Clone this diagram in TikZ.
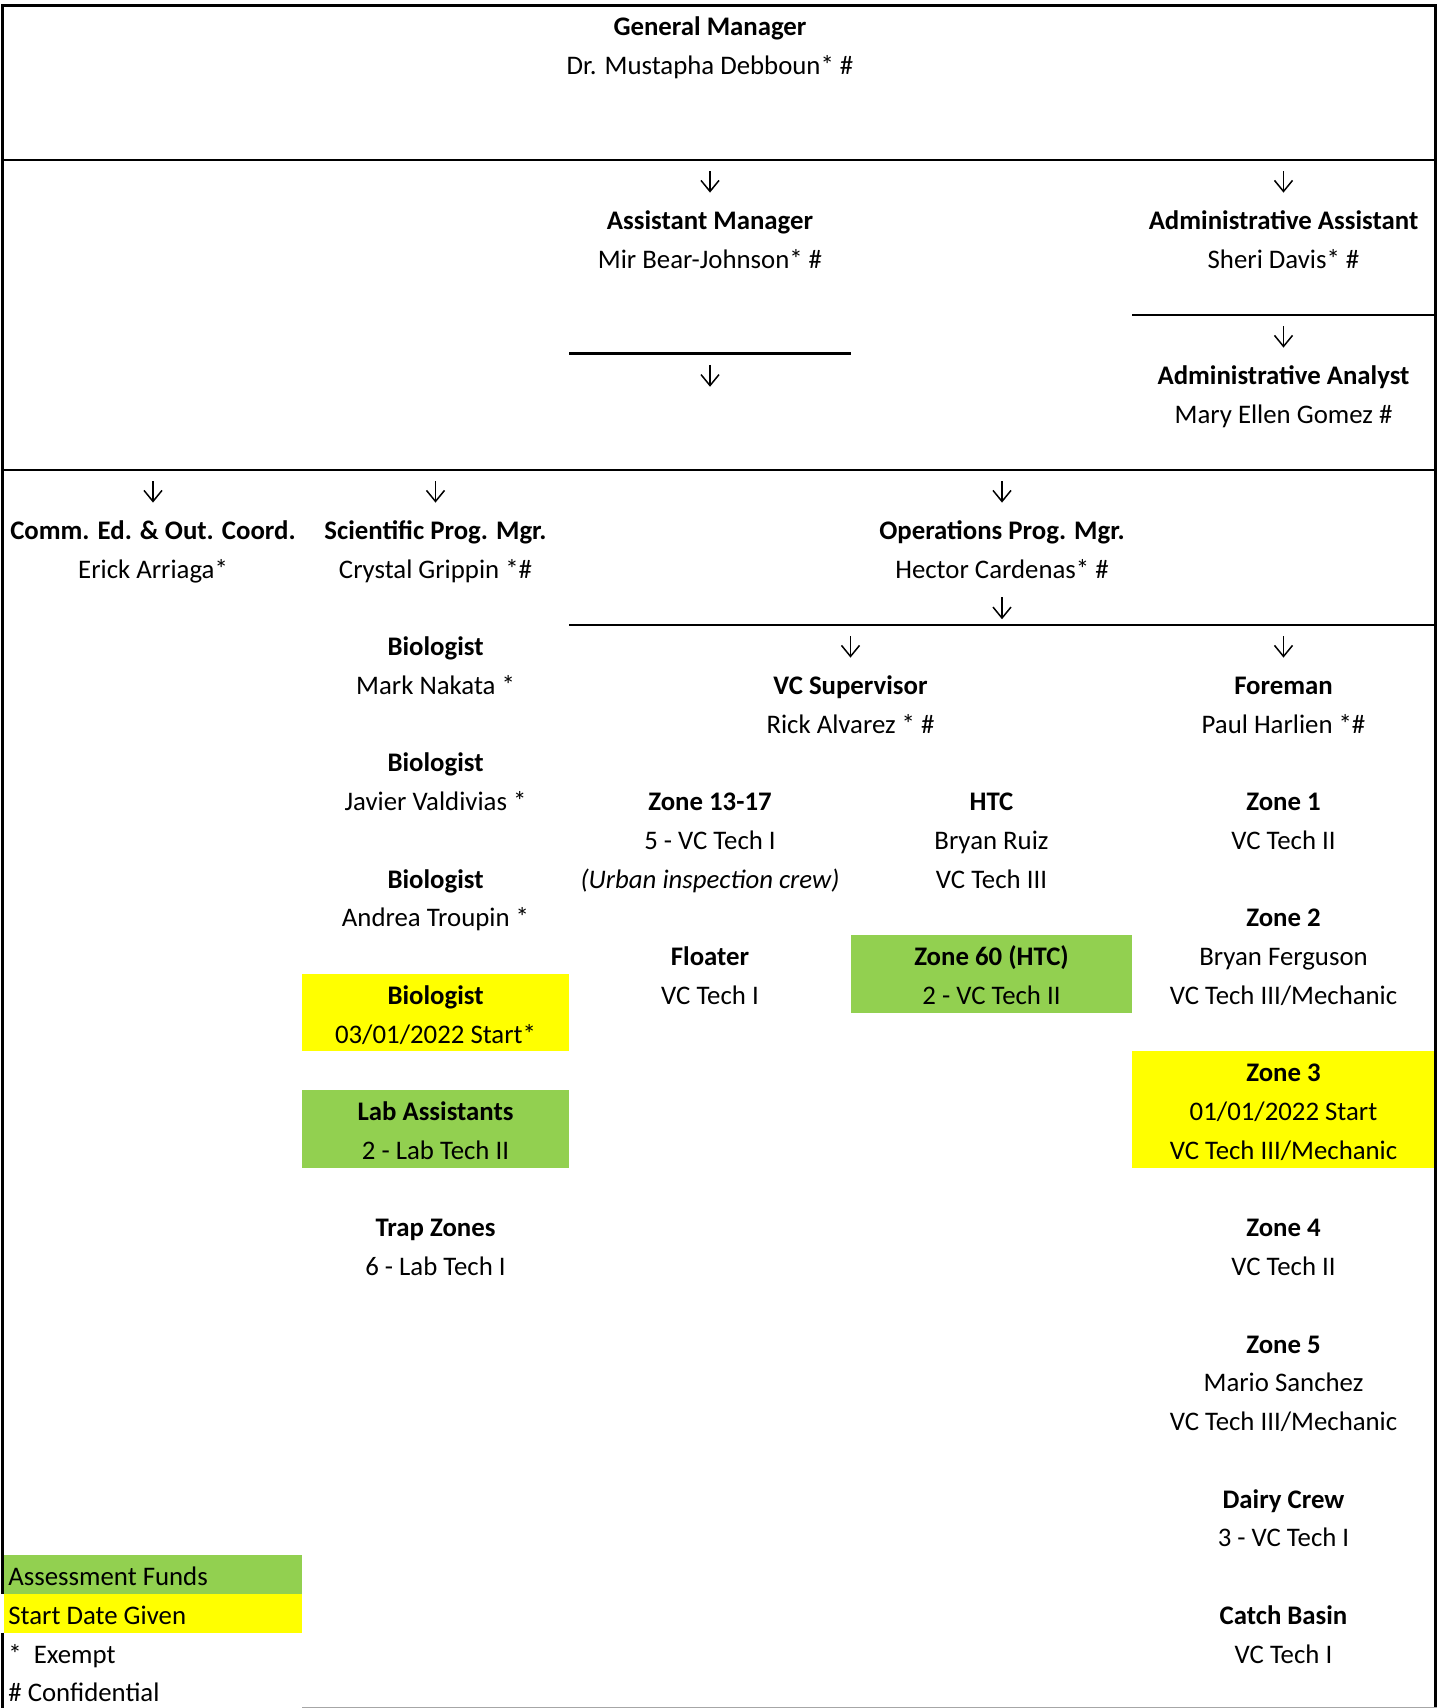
\documentclass[tikz,border=0pt]{standalone}
\usepackage{fontspec}
\setmainfont{Carlito}
\usetikzlibrary{arrows.meta, positioning}

\definecolor{fundgreen}{RGB}{146,208,80}
\definecolor{startyellow}{RGB}{255,255,0}

% row centres and column centres (in pixels)
\newcommand{\rowy}[1]{27+38.75*(#1)}
\newcommand{\colA}{153}
\newcommand{\colB}{435.5}
\newcommand{\colC}{710}
\newcommand{\colD}{991.5}
\newcommand{\colE}{1283.5}
\newcommand{\colCD}{850.5}
\newcommand{\colCE}{1002}

\begin{document}
\begin{tikzpicture}[x=0.5pt, y=-0.5pt,
    font=\fontsize{13.4}{15}\selectfont]

    \tikzset{
      cell/.style = {inner sep=0pt, text height=10.7pt, text depth=2.15pt},
      ttl/.style  = {cell, font=\fontsize{13.4}{15}\selectfont\bfseries},
      nm/.style   = {cell},
      note/.style = {cell, font=\fontsize{13.4}{15}\selectfont\itshape},
      dn/.style   = {-{Straight Barb[length=5.5pt, width=9pt]},
                     line width=0.75pt, shorten >=7.45pt},
      rule/.style = {line width=1.35pt},
    }

    \useasboundingbox (0,0) rectangle (1437,1708);

    % coloured cells
    \fill[startyellow] (302,973.8)  rectangle (569,1051.3);
    \fill[fundgreen]   (302,1090)   rectangle (569,1167.5);
    \fill[fundgreen]   (851,935)    rectangle (1132,1012.5);
    \fill[startyellow] (1132,1051.3) rectangle (1435,1167.5);
    \fill[fundgreen]   (4,1555)     rectangle (302,1593.8);
    \fill[startyellow] (4,1593.8)   rectangle (302,1632.5);

    % borders
    \draw[rule] (2.7,1593.8) -- (2.7,5.5) -- (1435.7,5.5) -- (1435.7,1708);
    \draw[rule] (2.7,1632.5) -- (2.7,1708);
    \draw[rule] (2.7,160) -- (1435.7,160);
    \draw[rule] (1132,315) -- (1435.7,315);
    \draw[rule] (569,353.8) -- (851,353.8);
    \draw[rule] (2.7,470) -- (1435.7,470);
    \draw[rule] (569,625) -- (1435.7,625);
    \draw[gray!70, line width=0.5pt] (302,1707.5) -- (1437,1707.5);

    % top
    \node[ttl] (gm)   at (\colC,{\rowy{0}}) {General Manager};
    \node[nm]  (gmn)  at (\colC,{\rowy{1}}) {Dr. Mustapha Debboun* \#};

    \node[ttl] (am)   at (\colC,{\rowy{5}}) {Assistant Manager};
    \node[nm]  (amn)  at (\colC,{\rowy{6}}) {Mir Bear-Johnson* \#};
    \node[ttl] (aa)   at (\colE,{\rowy{5}}) {Administrative Assistant};
    \node[nm]  (aan)  at (\colE,{\rowy{6}}) {Sheri Davis* \#};
    \node[ttl] (an)   at (\colE,{\rowy{9}}) {Administrative Analyst};
    \node[nm]  (ann)  at (\colE,{\rowy{10}}) {Mary Ellen Gomez \#};

    % programme managers
    \node[ttl] (ce)   at (\colA,{\rowy{13}}) {Comm. Ed. \& Out. Coord.};
    \node[nm]  (cen)  at (\colA,{\rowy{14}}) {Erick Arriaga*};
    \node[ttl] (sp)   at (\colB,{\rowy{13}}) {Scientific Prog. Mgr.};
    \node[nm]  (spn)  at (\colB,{\rowy{14}}) {Crystal Grippin *\#};
    \node[ttl] (op)   at (\colCE,{\rowy{13}}) {Operations Prog. Mgr.};
    \node[nm]  (opn)  at (\colCE,{\rowy{14}}) {Hector Cardenas* \#};

    % scientific column
    \node[ttl] (bio1)  at (\colB,{\rowy{16}}) {Biologist};
    \node[nm]  (bio1n) at (\colB,{\rowy{17}}) {Mark Nakata *};
    \node[ttl] (bio2)  at (\colB,{\rowy{19}}) {Biologist};
    \node[nm]  (bio2n) at (\colB,{\rowy{20}}) {Javier Valdivias *};
    \node[ttl] (bio3)  at (\colB,{\rowy{22}}) {Biologist};
    \node[nm]  (bio3n) at (\colB,{\rowy{23}}) {Andrea Troupin *};
    \node[ttl] (bio4)  at (\colB,{\rowy{25}}) {Biologist};
    \node[nm]  (bio4n) at (\colB,{\rowy{26}}) {03/01/2022 Start*};
    \node[ttl] (lab)   at (\colB,{\rowy{28}}) {Lab Assistants};
    \node[nm]  (labn)  at (\colB,{\rowy{29}}) {2 - Lab Tech II};
    \node[ttl] (tz)    at (\colB,{\rowy{31}}) {Trap Zones};
    \node[nm]  (tzn)   at (\colB,{\rowy{32}}) {6 - Lab Tech I};

    % operations
    \node[ttl] (vs)   at (\colCD,{\rowy{17}}) {VC Supervisor};
    \node[nm]  (vsn)  at (\colCD,{\rowy{18}}) {Rick Alvarez * \#};
    \node[ttl] (fm)   at (\colE,{\rowy{17}}) {Foreman};
    \node[nm]  (fmn)  at (\colE,{\rowy{18}}) {Paul Harlien *\#};

    \node[ttl]  (z13)  at (\colC,{\rowy{20}}) {Zone 13-17};
    \node[nm]   (z13n) at (\colC,{\rowy{21}}) {5 - VC Tech I};
    \node[note] (z13c) at (\colC,{\rowy{22}}) {(Urban inspection crew)};
    \node[ttl]  (fl)   at (\colC,{\rowy{24}}) {Floater};
    \node[nm]   (fln)  at (\colC,{\rowy{25}}) {VC Tech I};

    \node[ttl] (htc)  at (\colD,{\rowy{20}}) {HTC};
    \node[nm]  (htcn) at (\colD,{\rowy{21}}) {Bryan Ruiz};
    \node[nm]  (htct) at (\colD,{\rowy{22}}) {VC Tech III};
    \node[ttl] (z60)  at (\colD,{\rowy{24}}) {Zone 60 (HTC)};
    \node[nm]  (z60n) at (\colD,{\rowy{25}}) {2 - VC Tech II};

    \node[ttl] (z1)   at (\colE,{\rowy{20}}) {Zone 1};
    \node[nm]  (z1n)  at (\colE,{\rowy{21}}) {VC Tech II};
    \node[ttl] (z2)   at (\colE,{\rowy{23}}) {Zone 2};
    \node[nm]  (z2n)  at (\colE,{\rowy{24}}) {Bryan Ferguson};
    \node[nm]  (z2t)  at (\colE,{\rowy{25}}) {VC Tech III/Mechanic};
    \node[ttl] (z3)   at (\colE,{\rowy{27}}) {Zone 3};
    \node[nm]  (z3n)  at (\colE,{\rowy{28}}) {01/01/2022 Start};
    \node[nm]  (z3t)  at (\colE,{\rowy{29}}) {VC Tech III/Mechanic};
    \node[ttl] (z4)   at (\colE,{\rowy{31}}) {Zone 4};
    \node[nm]  (z4n)  at (\colE,{\rowy{32}}) {VC Tech II};
    \node[ttl] (z5)   at (\colE,{\rowy{34}}) {Zone 5};
    \node[nm]  (z5n)  at (\colE,{\rowy{35}}) {Mario Sanchez};
    \node[nm]  (z5t)  at (\colE,{\rowy{36}}) {VC Tech III/Mechanic};
    \node[ttl] (dc)   at (\colE,{\rowy{38}}) {Dairy Crew};
    \node[nm]  (dcn)  at (\colE,{\rowy{39}}) {3 - VC Tech I};
    \node[ttl] (cb)   at (\colE,{\rowy{41}}) {Catch Basin};
    \node[nm]  (cbn)  at (\colE,{\rowy{42}}) {VC Tech I};

    % legend
    \node[nm, anchor=west] (lg1) at (8,{\rowy{40}}) {Assessment Funds};
    \node[nm, anchor=west] (lg2) at (8,{\rowy{41}}) {Start Date Given};
    \node[nm, anchor=west] (lg3) at (8,{\rowy{42}}) {*\ \ Exempt};
    \node[nm, anchor=west] (lg4) at (8,{\rowy{43}}) {\# Confidential};

    % arrows
    \coordinate (a1)  at (\colC,{\rowy{4}-11});
    \coordinate (a2)  at (\colE,{\rowy{4}-11});
    \coordinate (a3)  at (\colE,{\rowy{8}-11});
    \coordinate (a4)  at (\colC,{\rowy{9}-11});
    \coordinate (a4e) at (\colC,{\rowy{9}+11});
    \coordinate (a5)  at (\colA,{\rowy{12}-11});
    \coordinate (a6)  at (\colB,{\rowy{12}-11});
    \coordinate (a7)  at (\colCE,{\rowy{12}-11});
    \coordinate (a8)  at (\colCE,{\rowy{15}-11});
    \coordinate (a8e) at (\colCE,{\rowy{15}+11});
    \coordinate (a9)  at (\colCD,{\rowy{16}-11});
    \coordinate (a10) at (\colE,{\rowy{16}-11});

    \draw[dn] (a1) -- (am);
    \draw[dn] (a2) -- (aa);
    \draw[dn] (a3) -- (an);
    \draw[dn, shorten >=0pt] (a4) -- (a4e);
    \draw[dn] (a5) -- (ce);
    \draw[dn] (a6) -- (sp);
    \draw[dn] (a7) -- (op);
    \draw[dn, shorten >=0pt] (a8) -- (a8e);
    \draw[dn] (a9) -- (vs);
    \draw[dn] (a10) -- (fm);

\end{tikzpicture}
\end{document}
